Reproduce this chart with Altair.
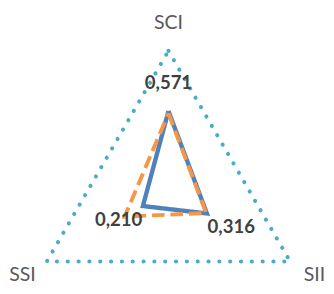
import altair as alt
import pandas as pd

# ---- data ----
axes = ["SCI", "SII", "SSI"]
series_blue = [0.571, 0.316, 0.210]
series_orange = [0.555, 0.310, 0.360]
max_value = [1.0, 1.0, 1.0]
label_text = ["0,571", "0,316", "0,210"]

rows = []
for name, vals in [("outer", max_value), ("blue", series_blue), ("orange", series_orange)]:
    for i in range(4):
        k = i % 3
        rows.append({"series": name, "axis": axes[k], "idx": k, "ord": i, "value": vals[k]})
df = pd.DataFrame(rows)

lab_df = pd.DataFrame({"idx": [0, 1, 2], "value": series_blue, "text": label_text})
ax_df = pd.DataFrame({"idx": [0, 1, 2], "axis": axes})

W, H = 326, 286
cx, cy, R = 164.5, 184.3, 144.0
xdom = [-cx / R, (W - cx) / R]
ydom = [-(H - cy) / R, cy / R]

xs = alt.Scale(domain=xdom, nice=False, zero=False)
ys = alt.Scale(domain=ydom, nice=False, zero=False)

ang = "PI/2 - datum.idx*2*PI/3"


def poly(name, color, width, dash, cap="butt"):
    return (
        alt.Chart(df)
        .transform_filter(alt.datum.series == name)
        .transform_calculate(ang=ang)
        .transform_calculate(px="datum.value*cos(datum.ang)", py="datum.value*sin(datum.ang)")
        .mark_line(color=color, strokeWidth=width, strokeDash=dash, strokeCap=cap, strokeJoin="miter")
        .encode(
            x=alt.X("px:Q", scale=xs, axis=None),
            y=alt.Y("py:Q", scale=ys, axis=None),
            order=alt.Order("ord:Q"),
        )
    )


outer = poly("outer", "#4BACC6", 4.2, [0.1, 11], cap="round")
blue = poly("blue", "#4F81BD", 4.5, [1, 0])
orange = poly("orange", "#F79646", 4, [13, 6])

labels = (
    alt.Chart(lab_df)
    .transform_calculate(ang=ang)
    .transform_calculate(
        px="(datum.value+0.2)*cos(datum.ang)", py="(datum.value+0.2)*sin(datum.ang)"
    )
    .mark_text(font="Lato", fontSize=19, fontWeight="bold", color="#404040", align="center", baseline="middle")
    .encode(x=alt.X("px:Q", scale=xs, axis=None), y=alt.Y("py:Q", scale=ys, axis=None), text="text:N")
)

axis_labels = (
    alt.Chart(ax_df)
    .transform_calculate(ang=ang)
    .transform_calculate(px="1.2*cos(datum.ang)", py="1.2*sin(datum.ang)")
    .mark_text(font="Lato", fontSize=20, color="#595959", align="center", baseline="middle")
    .encode(x=alt.X("px:Q", scale=xs, axis=None), y=alt.Y("py:Q", scale=ys, axis=None), text="axis:N")
)

chart = (
    alt.layer(outer, blue, orange, labels, axis_labels)
    .properties(width=W, height=H, padding=0, autosize=alt.AutoSizeParams(type="none"))
    .configure_view(stroke=None)
)

chart.save("out.html", embed_options={"renderer": "svg", "actions": False})
